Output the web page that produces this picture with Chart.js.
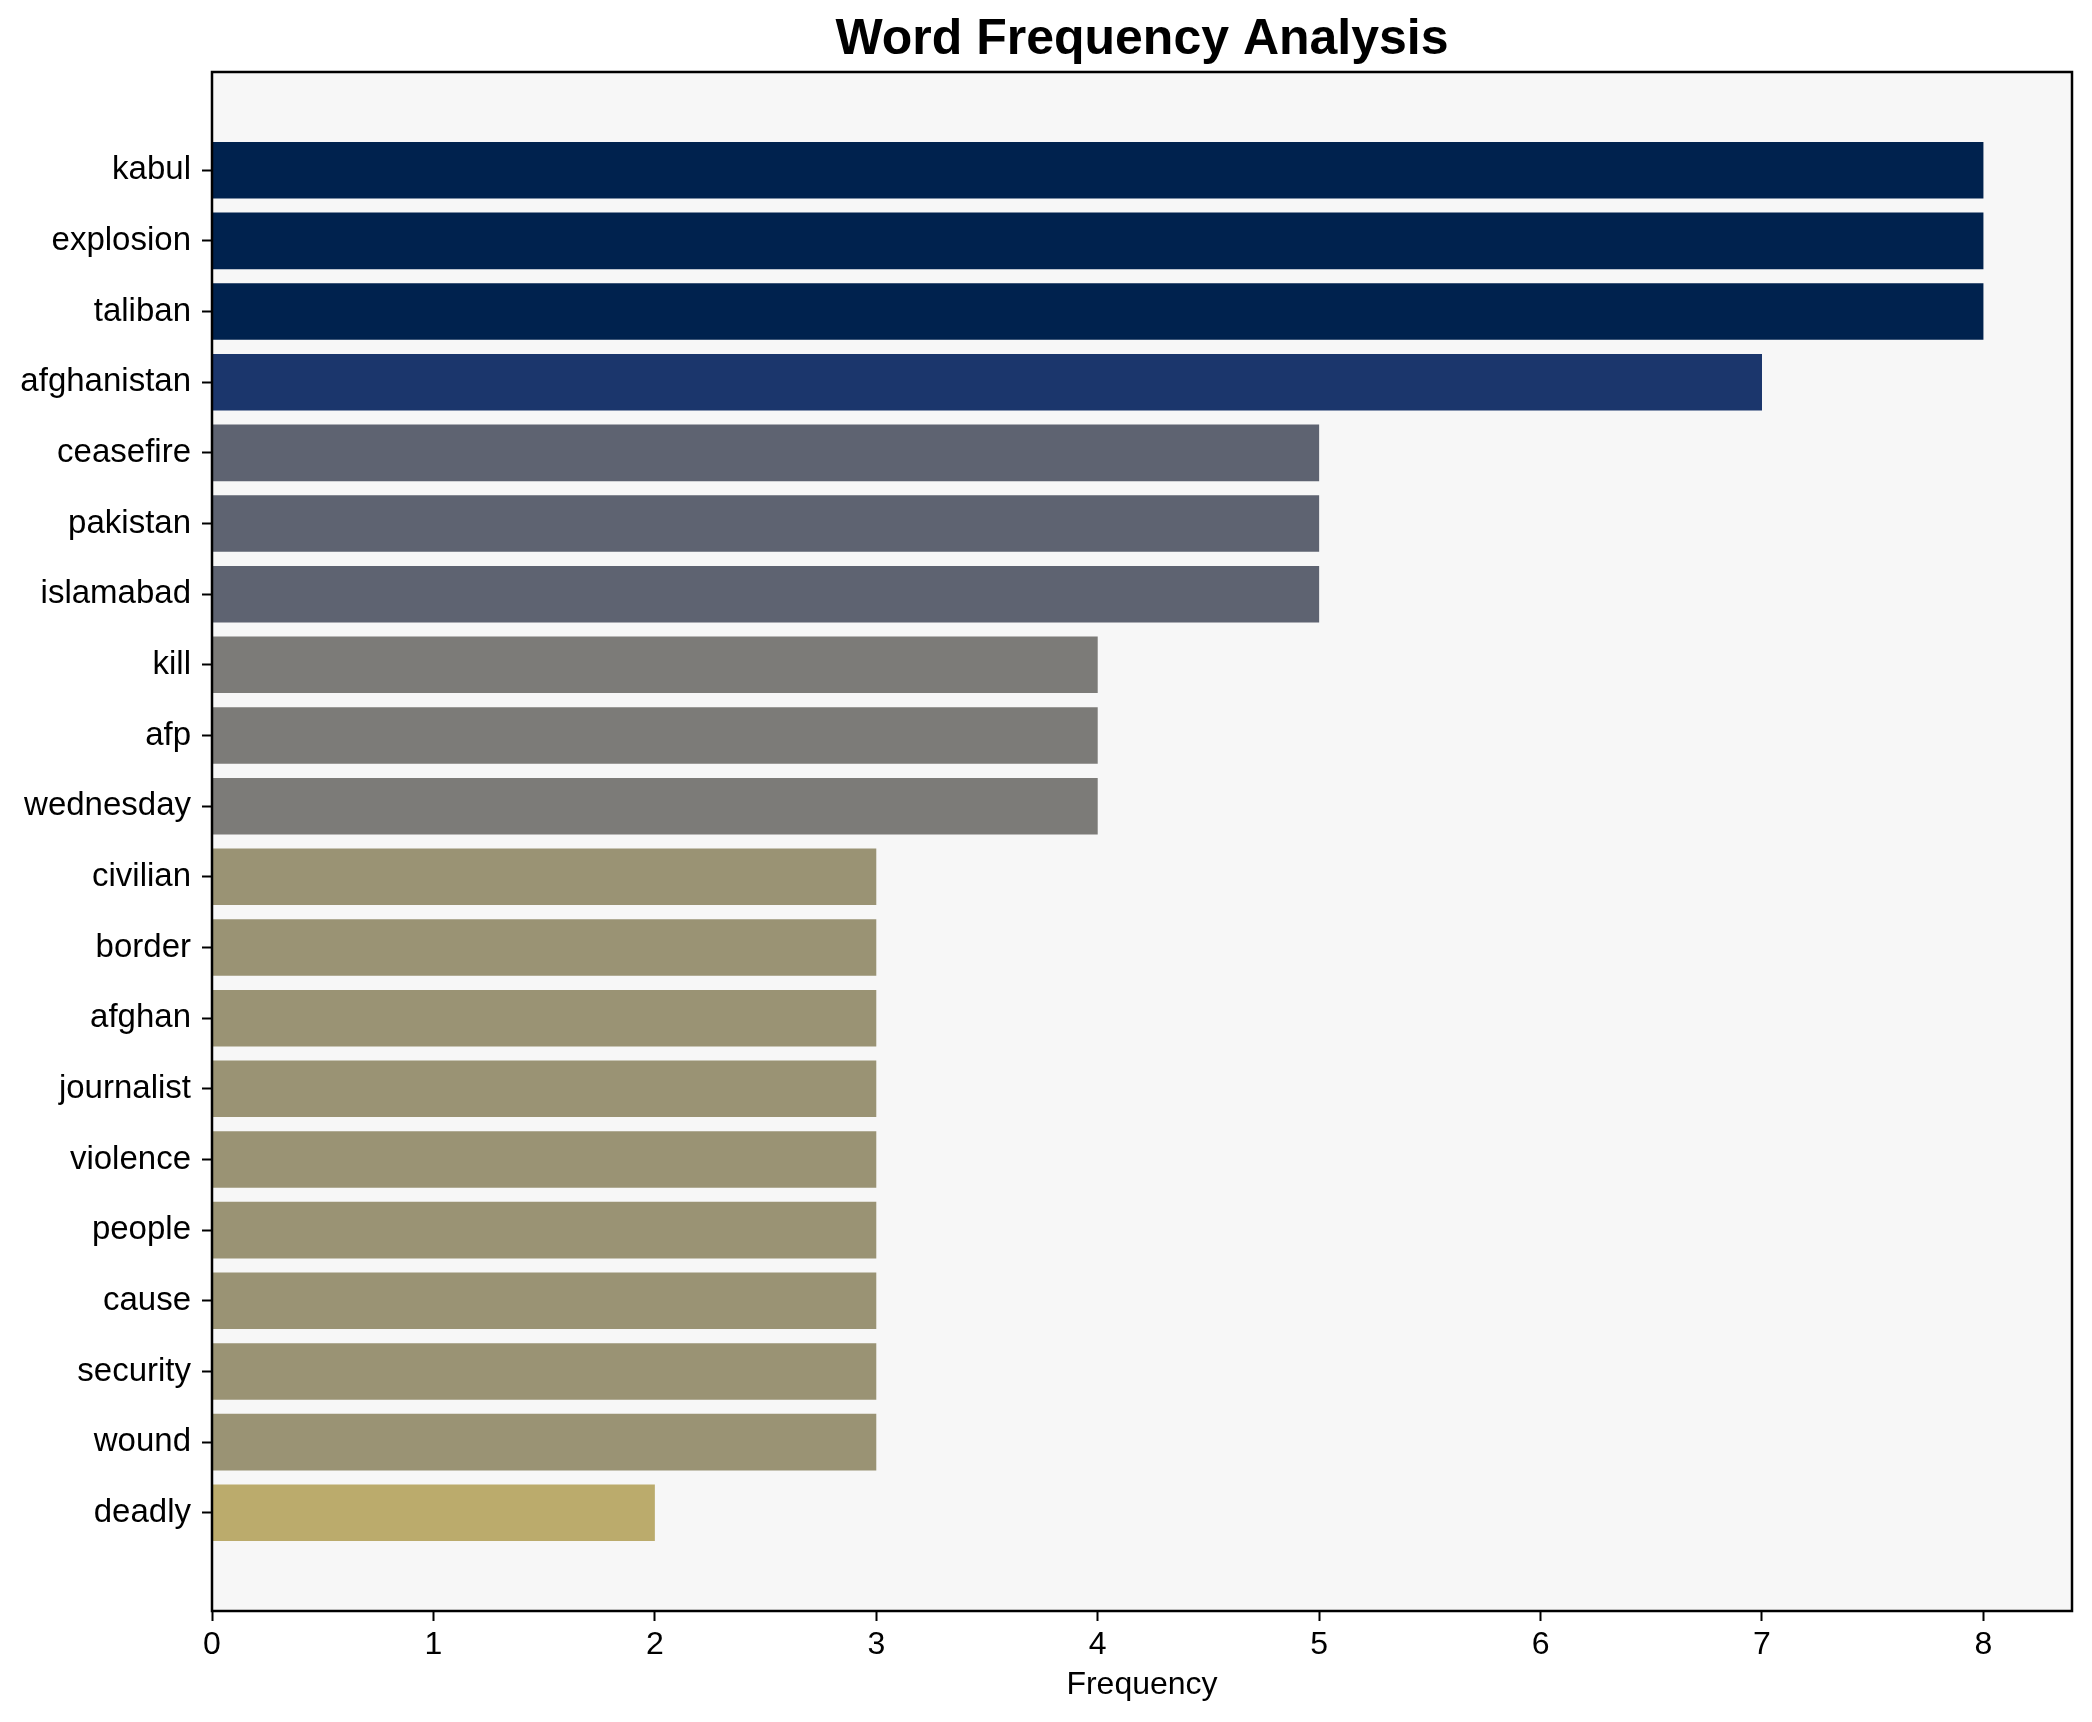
<!DOCTYPE html>
<html>
<head>
<meta charset="utf-8">
<script src="https://cdn.jsdelivr.net/npm/chart.js@4"></script>
<style>
html,body{margin:0;padding:0;background:#fff;}
canvas{display:block;}
</style>
</head>
<body>
<canvas id="c" width="2092" height="1722"></canvas>
<script>
const words = ["kabul","explosion","taliban","afghanistan","ceasefire","pakistan","islamabad","kill","afp","wednesday","civilian","border","afghan","journalist","violence","people","cause","security","wound","deadly"];
const counts = [8,8,8,7,5,5,5,4,4,4,3,3,3,3,3,3,3,3,3,2];
const xTicks = [0,1,2,3,4,5,6,7,8];
const colorByCount = {8:"#00224e",7:"#1b366c",5:"#5e6371",4:"#7c7b78",3:"#9a9374",2:"#bbab6c"};

const FONT = "'Liberation Sans', Arial, sans-serif";

const framePlugin = {
  id: 'frame',
  beforeDraw(chart) {
    const {ctx, chartArea: a} = chart;
    ctx.save();
    ctx.fillStyle = '#f7f7f7';
    ctx.fillRect(a.left, a.top, a.right - a.left, a.bottom - a.top);
    ctx.restore();
  },
  afterDatasetsDraw(chart) {
    const {ctx, chartArea: a} = chart;
    ctx.save();
    ctx.strokeStyle = '#000';
    ctx.lineWidth = 2.5;
    ctx.strokeRect(a.left, a.top, a.right - a.left, a.bottom - a.top);
    ctx.restore();
  }
};

new Chart(document.getElementById('c'), {
  type: 'bar',
  data: {
    datasets: [{
      data: counts.map((v, i) => ({x: v, y: i})),
      backgroundColor: counts.map(v => colorByCount[v]),
      barPercentage: 0.8,
      categoryPercentage: 1.0,
      borderWidth: 0
    }]
  },
  options: {
    indexAxis: 'y',
    responsive: false,
    devicePixelRatio: 1,
    animation: false,
    layout: {padding: {left: 0, right: 20, top: 0, bottom: 0}},
    plugins: {
      legend: {display: false},
      tooltip: {enabled: false},
      title: {
        display: true,
        fullSize: false,
        text: 'Word Frequency Analysis',
        color: '#000',
        font: {family: FONT, size: 50, weight: 'bold'},
        padding: {top: 10, bottom: 2}
      }
    },
    scales: {
      x: {
        type: 'linear',
        min: 0,
        max: 8.4,
        afterBuildTicks: (axis) => { axis.ticks = xTicks.map(v => ({value: v})); },
        afterFit: (axis) => { axis.height = 111; },
        grid: {display: true, drawOnChartArea: false, tickLength: 10, tickWidth: 2, tickColor: '#000'},
        border: {display: false},
        ticks: {color: '#000', font: {family: FONT, size: 32}, padding: 5, maxRotation: 0},
        title: {display: true, text: 'Frequency', color: '#000', font: {family: FONT, size: 32}, padding: {top: 0, bottom: 18}}
      },
      y: {
        type: 'linear',
        reverse: true,
        offset: false,
        min: -1.39,
        max: 20.39,
        afterBuildTicks: (axis) => { axis.ticks = words.map((w, i) => ({value: i})); },
        afterFit: (axis) => { axis.width = 212; },
        grid: {display: true, offset: false, drawOnChartArea: false, tickLength: 10, tickWidth: 2, tickColor: '#000'},
        border: {display: false},
        ticks: {color: '#000', font: {family: FONT, size: 33}, padding: 11, callback: (v) => words[v]}
      }
    }
  },
  plugins: [framePlugin]
});
</script>
</body>
</html>
